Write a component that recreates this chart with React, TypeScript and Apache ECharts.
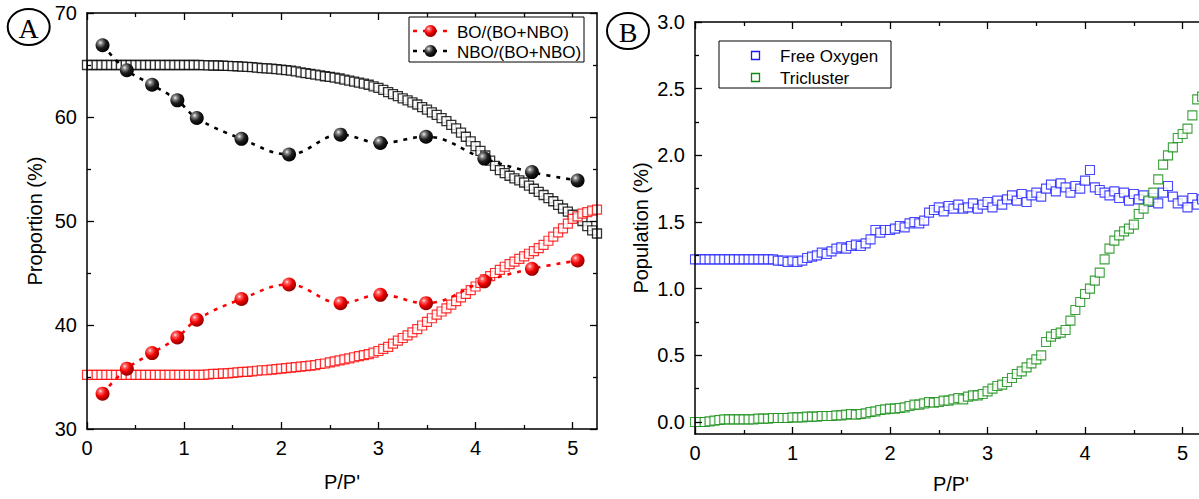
import React, { useEffect, useRef } from "react";
import * as echarts from "echarts";

// ---------- data ----------
const P = [0,0.05,0.1,0.15,0.2,0.25,0.3,0.35,0.4,0.45,0.5,0.55,0.6,0.65,0.7,0.75,0.8,0.85,0.9,0.95,1,1.05,1.1,1.15,1.2,1.25,1.3,1.35,1.4,1.45,1.5,1.55,1.6,1.65,1.7,1.75,1.8,1.85,1.9,1.95,2,2.05,2.1,2.15,2.2,2.25,2.3,2.35,2.4,2.45,2.5,2.55,2.6,2.65,2.7,2.75,2.8,2.85,2.9,2.95,3,3.05,3.1,3.15,3.2,3.25,3.3,3.35,3.4,3.45,3.5,3.55,3.6,3.65,3.7,3.75,3.8,3.85,3.9,3.95,4,4.05,4.1,4.15,4.2,4.25,4.3,4.35,4.4,4.45,4.5,4.55,4.6,4.65,4.7,4.75,4.8,4.85,4.9,4.95,5,5.05,5.1,5.15,5.2,5.25];

const BO_SQUARES = [
  35.2,35.2,35.2,35.2,35.2,35.2,35.2,35.2,35.2,35.2,
  35.2,35.2,35.2,35.2,35.2,35.2,35.2,35.2,35.2,35.2,
  35.2,35.2,35.2,35.2,35.2,35.25,35.3,35.3,35.35,35.35,
  35.4,35.45,35.5,35.5,35.55,35.6,35.65,35.65,35.7,35.75,
  35.8,35.85,35.9,35.95,36.0,36.05,36.1,36.15,36.25,36.3,
  36.4,36.5,36.6,36.7,36.8,36.9,37.0,37.1,37.2,37.35,
  37.5,37.7,37.9,38.2,38.5,38.75,39.0,39.3,39.6,39.95,
  40.3,40.65,41.0,41.3,41.6,41.95,42.3,42.65,43.0,43.35,
  43.7,44.05,44.4,44.7,45.0,45.3,45.6,45.85,46.1,46.35,
  46.6,46.85,47.1,47.4,47.7,48.1,48.5,48.9,49.3,49.75,
  50.2,50.45,50.7,50.85,51.0,51.1,
];

const NBO_SQUARES = [
  65.0,65.0,65.0,65.0,65.0,65.0,65.0,65.0,65.0,65.0,
  65.0,65.0,65.0,65.0,65.0,65.0,65.0,65.0,65.0,65.0,
  65.0,65.0,65.0,65.0,64.98,64.97,64.95,64.95,64.93,64.92,
  64.9,64.88,64.85,64.82,64.8,64.75,64.7,64.68,64.65,64.6,
  64.55,64.5,64.45,64.38,64.3,64.22,64.15,64.08,64.0,63.92,
  63.85,63.78,63.7,63.6,63.5,63.4,63.3,63.2,63.1,62.95,
  62.8,62.6,62.4,62.2,62.0,61.8,61.6,61.4,61.2,60.95,
  60.7,60.45,60.2,59.9,59.6,59.25,58.9,58.5,58.1,57.65,
  57.2,56.75,56.3,55.8,55.3,54.9,54.6,54.35,54.1,53.9,
  53.7,53.4,53.1,52.8,52.5,52.2,51.9,51.55,51.2,50.9,
  50.6,50.3,50.0,49.5,49.1,48.8,
];

const SPHERE_P = [0.16,0.41,0.67,0.93,1.13,1.59,2.08,2.61,3.02,3.49,4.09,4.58,5.05];
const BO_SPHERES = [33.4,35.8,37.3,38.8,40.5,42.5,43.9,42.1,42.9,42.1,44.2,45.4,46.2];
const NBO_SPHERES = [66.9,64.5,63.1,61.6,59.9,57.9,56.4,58.3,57.5,58.1,56.0,54.7,53.9];

const FREE_OXYGEN = [
  1.22,1.22,1.22,1.22,1.22,1.22,1.22,1.22,1.22,1.22,
  1.22,1.22,1.22,1.22,1.22,1.22,1.22,1.21,1.21,1.2,
  1.21,1.2,1.21,1.23,1.24,1.25,1.27,1.26,1.28,1.3,
  1.31,1.3,1.32,1.33,1.32,1.34,1.37,1.44,1.42,1.44,
  1.44,1.45,1.47,1.46,1.49,1.5,1.49,1.51,1.57,1.59,
  1.61,1.58,1.62,1.6,1.63,1.6,1.61,1.64,1.6,1.63,
  1.65,1.61,1.66,1.63,1.67,1.7,1.66,1.71,1.65,1.7,
  1.72,1.69,1.75,1.78,1.73,1.79,1.76,1.72,1.77,1.75,
  1.81,1.89,1.76,1.74,1.72,1.7,1.73,1.68,1.72,1.66,
  1.71,1.67,1.7,1.65,1.68,1.64,1.72,1.77,1.69,1.64,
  1.66,1.61,1.68,1.63,1.67,1.7,
];

const TRICLUSTER = [
  0.0,0.0,0.0,0.005,0.01,0.015,0.02,0.02,0.02,0.02,
  0.02,0.02,0.02,0.025,0.025,0.025,0.03,0.03,0.03,0.03,
  0.035,0.035,0.035,0.04,0.04,0.04,0.045,0.045,0.045,0.05,
  0.05,0.055,0.06,0.055,0.06,0.065,0.075,0.08,0.09,0.095,
  0.1,0.1,0.105,0.11,0.12,0.13,0.13,0.14,0.15,0.145,
  0.15,0.16,0.16,0.17,0.18,0.17,0.19,0.2,0.2,0.21,
  0.23,0.25,0.27,0.28,0.3,0.33,0.36,0.38,0.41,0.44,
  0.47,0.5,0.6,0.64,0.66,0.67,0.69,0.76,0.84,0.9,
  0.96,1.0,1.06,1.12,1.22,1.3,1.36,1.4,1.43,1.45,
  1.48,1.56,1.6,1.66,1.72,1.82,1.93,2.0,2.06,2.13,
  2.16,2.2,2.3,2.42,2.44,2.5,
];

const X_MAJOR = [0, 1, 2, 3, 4, 5];
const X_MINOR = [0.5, 1.5, 2.5, 3.5, 4.5];
const YA_MAJOR = [30, 40, 50, 60, 70];
const YA_MINOR = [35, 45, 55, 65];
const YB_MAJOR = [0, 0.5, 1.0, 1.5, 2.0, 2.5, 3.0];
const YB_MINOR = [0.25, 0.75, 1.25, 1.75, 2.25, 2.75];

// ---------- styles ----------
const FONT = '"Liberation Sans", Arial, sans-serif';
const BLACK = "#000";
const BLUE = "#1a1aff";
const GREEN = "#0c8a0c";

const redSphere = {
  type: "radial", x: 0.35, y: 0.32, r: 0.7,
  colorStops: [
    { offset: 0, color: "#fff0f0" },
    { offset: 0.18, color: "#ff6a6a" },
    { offset: 0.55, color: "#f20000" },
    { offset: 1, color: "#8a0000" },
  ],
};
const blackSphere = {
  type: "radial", x: 0.35, y: 0.32, r: 0.7,
  colorStops: [
    { offset: 0, color: "#f4f4f4" },
    { offset: 0.2, color: "#8a8a8a" },
    { offset: 0.55, color: "#1e1e1e" },
    { offset: 1, color: "#000000" },
  ],
};

const zip = (xs: number[], ys: number[]) => xs.map((x, i) => [x, ys[i]]);

function axisSet(
  kind: "x" | "y",
  grid: number,
  min: number,
  max: number,
  majors: number[],
  minors: number[],
  name: string,
  nameGap: number,
  fmt?: (v: number) => string
) {
  const base: any = { type: "value", gridIndex: grid, min, max, splitLine: { show: false }, z: 5 };
  const shown = { show: true, onZero: false, lineStyle: { color: BLACK, width: 1.5 } };
  const hidden = { show: false, onZero: false };
  const majTick = { show: true, inside: true, length: 7, customValues: majors, lineStyle: { color: BLACK, width: 1.3 } };
  const minTick = { show: true, inside: true, length: 4, customValues: minors, lineStyle: { color: BLACK, width: 1.3 } };
  const p1 = kind === "x" ? "bottom" : "left";
  const p2 = kind === "x" ? "top" : "right";
  return [
    {
      ...base, position: p1, axisLine: shown, axisTick: majTick,
      axisLabel: {
        show: true, customValues: majors, margin: kind === "x" ? 9 : 10,
        fontSize: 20, color: BLACK, fontFamily: FONT,
        formatter: fmt ? (v: number) => fmt(v) : (v: number) => String(v),
      },
      name, nameLocation: "middle", nameGap,
      nameTextStyle: { fontSize: 20, color: BLACK, fontFamily: FONT },
    },
    { ...base, position: p1, axisLine: hidden, axisTick: minTick, axisLabel: { show: false } },
    { ...base, position: p2, axisLine: shown, axisTick: majTick, axisLabel: { show: false } },
    { ...base, position: p2, axisLine: hidden, axisTick: minTick, axisLabel: { show: false } },
  ];
}

function squares(name: string, ys: number[], color: string, xi: number, yi: number, bw: number) {
  return {
    name, type: "scatter", xAxisIndex: xi, yAxisIndex: yi,
    data: zip(P, ys), symbol: "rect", symbolSize: 9,
    itemStyle: { color: "#fff", borderColor: color, borderWidth: bw },
    z: 2,
  };
}

function sphereLine(name: string, ys: number[], color: string, fill: any) {
  return {
    name, type: "line", xAxisIndex: 0, yAxisIndex: 0,
    data: zip(SPHERE_P, ys), smooth: 0.4,
    symbol: "circle", symbolSize: 14, showSymbol: true,
    lineStyle: { color, width: 2.6, type: [4, 6] },
    itemStyle: { color: fill, borderWidth: 0 },
    z: 3,
  };
}

function legendText(x: number, y: number, text: string) {
  return {
    type: "text", x, y,
    style: {
      text, fill: BLACK, font: `17px ${FONT}`,
      align: "left", verticalAlign: "middle",
      textAlign: "left", textVerticalAlign: "middle",
    },
    z: 11,
  };
}

function legendSquare(cx: number, cy: number, color: string) {
  return {
    type: "polygon",
    shape: { points: [[cx - 4, cy - 4], [cx + 4, cy - 4], [cx + 4, cy + 4], [cx - 4, cy + 4]] },
    style: { fill: "#ffffff", stroke: color, lineWidth: 1.3 },
    z: 12,
  };
}

function panelLabel(cx: number, cy: number, letter: string) {
  return [
    { type: "ellipse", shape: { cx, cy, rx: 21, ry: 18 }, style: { fill: "none", stroke: BLACK, lineWidth: 2 }, z: 10 },
    {
      type: "text", x: cx, y: cy + 1,
      style: {
        text: letter, fill: BLACK, font: '28px "Liberation Serif", "Times New Roman", serif',
        align: "center", verticalAlign: "middle", textAlign: "center", textVerticalAlign: "middle",
      },
      z: 10,
    },
  ];
}

export default function App() {
  const ref = useRef<HTMLDivElement>(null);

  useEffect(() => {
    document.body.style.margin = "0";
    const chart = echarts.init(ref.current!, null, { renderer: "svg" });

    const option: any = {
      animation: false,
      backgroundColor: "#fff",
      textStyle: { fontFamily: FONT },
      grid: [
        { left: 87, top: 13, width: 510, height: 416, outerBoundsMode: "none", containLabel: false },
        { left: 695, top: 22, width: 512, height: 412, outerBoundsMode: "none", containLabel: false },
      ],
      xAxis: [
        ...axisSet("x", 0, 0, 5.25, X_MAJOR, X_MINOR, "P/P'", 43),
        ...axisSet("x", 1, 0, 5.25, X_MAJOR, X_MINOR, "P/P'", 40),
      ],
      yAxis: [
        ...axisSet("y", 0, 30, 70, YA_MAJOR, YA_MINOR, "Proportion (%)", 42),
        ...axisSet("y", 1, -0.09, 3.0, YB_MAJOR, YB_MINOR, "Population (%)", 44, (v) => v.toFixed(1)),
      ],
      series: [
        squares("NBO squares", NBO_SQUARES, "#000000", 0, 0, 1.3),
        squares("BO squares", BO_SQUARES, "#ff0000", 0, 0, 1.2),
        sphereLine("BO/(BO+NBO)", BO_SPHERES, "#ff0000", redSphere),
        sphereLine("NBO/(BO+NBO)", NBO_SPHERES, "#000000", blackSphere),
        squares("Free Oxygen", FREE_OXYGEN, BLUE, 4, 4, 1.1),
        squares("Tricluster", TRICLUSTER, GREEN, 4, 4, 1.1),
      ],
      graphic: [
        ...panelLabel(28.7, 27, "A"),
        ...panelLabel(628, 31, "B"),
        // legend A
        { type: "rect", shape: { x: 409, y: 17, width: 175, height: 45 }, style: { fill: "#fff", stroke: BLACK, lineWidth: 1 }, z: 10 },
        { type: "line", shape: { x1: 413, y1: 31, x2: 449, y2: 31 }, style: { stroke: "#ff0000", lineWidth: 2.6, lineDash: [4, 6] }, z: 11 },
        { type: "circle", shape: { cx: 430.5, cy: 31, r: 6 }, style: { fill: redSphere }, z: 12 },
        legendText(457, 32, "BO/(BO+NBO)"),
        { type: "line", shape: { x1: 413, y1: 51, x2: 449, y2: 51 }, style: { stroke: BLACK, lineWidth: 2.6, lineDash: [4, 6] }, z: 11 },
        { type: "circle", shape: { cx: 430.5, cy: 51, r: 6 }, style: { fill: blackSphere }, z: 12 },
        legendText(457, 52, "NBO/(BO+NBO)"),
        // legend B
        { type: "rect", shape: { x: 719, y: 41, width: 172, height: 47 }, style: { fill: "#fff", stroke: BLACK, lineWidth: 1 }, z: 10 },
        legendSquare(755.5, 55.5, BLUE),
        legendText(780, 56, "Free Oxygen"),
        legendSquare(755.5, 77.5, GREEN),
        legendText(780, 78, "Tricluster"),
      ],
    };

    chart.setOption(option);
    return () => chart.dispose();
  }, []);

  return (
    <div
      ref={ref}
      style={{ position: "absolute", left: 0, top: 0, width: 1199, height: 499, background: "#fff" }}
    />
  );
}
